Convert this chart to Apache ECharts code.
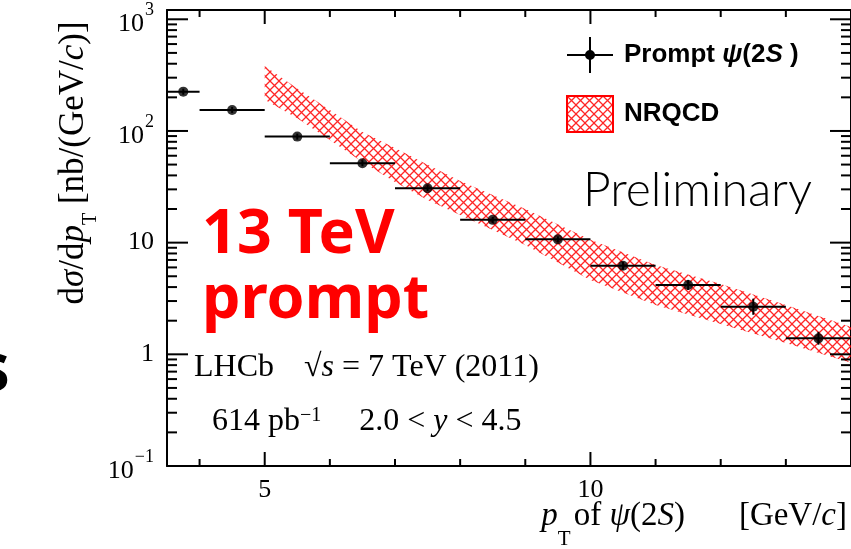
<!DOCTYPE html>
<html><head><meta charset="utf-8">
<script src="https://cdn.jsdelivr.net/npm/echarts@6/dist/echarts.min.js"></script>
<style>html,body{margin:0;padding:0;background:#fff}#c{width:851px;height:549px}</style>
</head><body><div id="c"></div>
<script>
// ---- data ----
const binLow = [3.5, 4, 5, 6, 7, 8, 9, 10, 11, 12, 13];
const binHigh = [4, 5, 6, 7, 8, 9, 10, 11, 12, 13, 14];
const binCenter = [3.75, 4.5, 5.5, 6.5, 7.5, 8.5, 9.5, 10.5, 11.5, 12.5, 13.5];
const xsec = [225, 154, 89, 51.4, 30.7, 16.0, 10.7, 6.22, 4.18, 2.67, 1.39];
const xsecLow = [211, 145, 83.6, 48.3, 28.9, 15.0, 10.1, 5.73, 3.77, 2.26, 1.22];
const xsecHigh = [239, 164, 94.7, 54.7, 32.7, 17.0, 11.4, 6.75, 4.64, 3.15, 1.59];
const bandPt = [5, 5.5, 6, 6.5, 7, 7.5, 8, 9, 10, 11, 12, 13, 14];
const bandUpper = [382, 240, 154, 98, 70.4, 49.7, 35.7, 20.0, 10.6, 6.31, 4.27, 2.77, 1.76];
const bandLower = [190, 130, 83, 52.7, 34.9, 24.1, 17.7, 9.53, 4.63, 2.77, 1.87, 1.26, 0.84];
const xRange = [3.5, 14];
const yRange = [0.1, 1211];
const xMajorTicks = [5, 10];
const xMinorTicks = [4, 6, 7, 8, 9, 11, 12, 13];
const yMajorTicks = [0.1, 1, 10, 100, 1000];
const yTickBase = ['10', '1', '10', '10', '10'];
const yTickExp = ['−1', '', '', '2', '3'];
const yMinorTicks = [0.2, 0.3, 0.4, 0.5, 0.6, 0.7, 0.8, 0.9, 2, 3, 4, 5, 6, 7, 8, 9,
  20, 30, 40, 50, 60, 70, 80, 90, 200, 300, 400, 500, 600, 700, 800, 900];

const serif = '"Liberation Serif", "Times New Roman", serif';
const sans = '"Liberation Sans", Arial, sans-serif';

function hatchCanvas() {
  const c = document.createElement('canvas');
  c.width = 9; c.height = 9;
  const g = c.getContext('2d');
  g.strokeStyle = 'rgba(255,0,0,0.85)';
  g.lineWidth = 1.3;
  g.beginPath();
  g.moveTo(-1, -1); g.lineTo(10, 10);
  g.moveTo(10, -1); g.lineTo(-1, 10);
  g.stroke();
  return c;
}
const hatch = { image: hatchCanvas(), repeat: 'repeat' };

const axLine = () => ({ color: '#000', width: 2 });
function xAx(pos, labels) {
  return {
    type: 'value', position: pos, min: xRange[0], max: xRange[1],
    axisLine: { show: true, onZero: false, lineStyle: axLine() },
    axisTick: { show: false },
    axisLabel: labels ? {
      show: true, customValues: xMajorTicks, margin: 11,
      fontFamily: serif, fontSize: 26, color: '#000',
      formatter: v => (xMajorTicks.indexOf(v) >= 0 ? String(v) : '')
    } : { show: false },
    splitLine: { show: false }
  };
}
function yAx(pos, labels) {
  return {
    type: 'log', logBase: 10, position: pos, min: yRange[0], max: yRange[1],
    axisLine: { show: true, onZero: false, lineStyle: axLine() },
    axisTick: { show: false },
    axisLabel: labels ? {
      show: true, customValues: yMajorTicks, margin: 13, showMaxLabel: true,
      fontFamily: serif, fontSize: 26, color: '#000',
      formatter: v => {
        let k = -1;
        yMajorTicks.forEach((t, i) => { if (Math.abs(Math.log10(t) - Math.log10(v)) < 0.01) k = i; });
        if (k < 0) return '';
        return yTickExp[k] ? '{h|\u200b}{b|' + yTickBase[k] + '}{s|' + yTickExp[k] + '}' : '{p|' + yTickBase[k] + '}';
      },
      rich: {
        p: { fontFamily: serif, fontSize: 26, lineHeight: 26, color: '#000' },
        h: { fontSize: 2, lineHeight: 36, width: 0 },
        b: { fontFamily: serif, fontSize: 26, lineHeight: 26.6, verticalAlign: 'bottom', color: '#000' },
        s: { fontFamily: serif, fontSize: 18, lineHeight: 28.4, verticalAlign: 'top', padding: [0, 0, 0, 1], color: '#000' }
      }
    } : { show: false },
    splitLine: { show: false }
  };
}

// tick marks: [x, y, length, kind(0 = x-axis tick, 1 = y-axis tick)]
const tickData = [].concat(
  xMajorTicks.map(v => [v, 1, 14, 0]),
  xMinorTicks.map(v => [v, 1, 7, 0]),
  yMajorTicks.map(v => [5, v, 21, 1]),
  yMinorTicks.map(v => [5, v, 10, 1])
);

const chart = echarts.init(document.getElementById('c'), null, { renderer: 'canvas', width: 851, height: 549 });

const option = {
  animation: false,
  backgroundColor: '#fff',
  grid: { left: 167, right: 0, top: 10, bottom: 83, containLabel: false, outerBoundsMode: 'none' },
  xAxis: [xAx('bottom', true), xAx('top', false)],
  yAxis: [yAx('left', true), yAx('right', false)],
  legend: {
    orient: 'vertical', left: 561, top: 32, itemWidth: 46, itemHeight: 36, itemGap: 22,
    selectedMode: false,
    data: [
      { name: 'Prompt', icon: 'path://M0,17h46v2h-46z M22,0h2v36h-2z M18,18a5,5 0 1,1 10,0a5,5 0 1,1 -10,0z', itemStyle: { color: '#000', borderWidth: 0 } },
      { name: 'NRQCD', icon: 'rect', itemStyle: { color: hatch, borderColor: '#ff0000', borderWidth: 2 } }
    ],
    formatter: n => n === 'Prompt' ? '{g|}{b|Prompt }{i|ψ}{b|(2}{i|S}{b| )}' : '{g|}{b|NRQCD}',
    textStyle: {
      color: '#000', fontFamily: sans, fontWeight: 'bold', fontSize: 26,
      rich: {
        g: { width: 6 },
        b: { fontFamily: sans, fontWeight: 'bold', fontSize: 26, color: '#000' },
        i: { fontFamily: sans, fontWeight: 'bold', fontStyle: 'italic', fontSize: 26, color: '#000' }
      }
    }
  },
  series: [
    {
      name: 'NRQCD', type: 'custom', xAxisIndex: 0, yAxisIndex: 0, z: 2,
      data: bandPt.map((x, i) => [x, bandLower[i], bandUpper[i]]),
      encode: { x: 0, y: [1, 2] },
      itemStyle: { color: hatch, borderColor: '#ff0000' },
      renderItem: (params, api) => {
        if (params.dataIndex !== 0) return null;
        const pts = [];
        for (let i = 0; i < bandPt.length; i++) pts.push(api.coord([bandPt[i], bandUpper[i]]));
        for (let i = bandPt.length - 1; i >= 0; i--) pts.push(api.coord([bandPt[i], bandLower[i]]));
        return { type: 'polygon', shape: { points: pts }, style: { fill: hatch, stroke: null } };
      }
    },
    {
      name: 'Prompt', type: 'custom', xAxisIndex: 0, yAxisIndex: 0, z: 4,
      data: binCenter.map((x, i) => [x, xsec[i], binLow[i], binHigh[i], xsecLow[i], xsecHigh[i]]),
      encode: { x: 0, y: 1 },
      itemStyle: { color: '#000' },
      renderItem: (params, api) => {
        const l = api.coord([api.value(2), api.value(1)]);
        const r = api.coord([api.value(3), api.value(1)]);
        const lo = api.coord([api.value(0), api.value(4)]);
        const hi = api.coord([api.value(0), api.value(5)]);
        return {
          type: 'group', children: [
            { type: 'line', shape: { x1: l[0], y1: l[1], x2: r[0], y2: r[1] }, style: { stroke: '#000', lineWidth: 2 } },
            { type: 'line', shape: { x1: lo[0], y1: lo[1], x2: hi[0], y2: hi[1] }, style: { stroke: '#000', lineWidth: 2 } }
          ]
        };
      }
    },
    {
      name: 'Prompt', type: 'scatter', xAxisIndex: 0, yAxisIndex: 0, z: 5,
      symbol: 'circle', symbolSize: 10,
      itemStyle: { color: '#000' },
      data: binCenter.map((x, i) => [x, xsec[i]])
    }
  ],
  graphic: [
    { type: 'text', x: -24, y: 372, style: { text: 's', fontFamily: '"Noto Sans", sans-serif', fontWeight: 'bold', fontSize: 68, fill: '#000', verticalAlign: 'middle' } },
    { type: 'text', x: 202, y: 236, style: { text: '13 TeV', fontFamily: '"Noto Sans", sans-serif', fontWeight: 'bold', fontSize: 61, fill: '#ff0000', verticalAlign: 'middle' } },
    { type: 'text', x: 202, y: 301, style: { text: 'prompt', fontFamily: '"Noto Sans", sans-serif', fontWeight: 'bold', fontSize: 61, fill: '#ff0000', verticalAlign: 'middle' } },
    { type: 'text', x: 583, y: 191, style: { text: 'Preliminary', fontFamily: 'Lato, "Noto Sans", sans-serif', fontWeight: 300, fontSize: 48, fill: '#000', verticalAlign: 'middle' } },
    { type: 'text', x: 194, y: 368, style: {
        text: '{n|LHCb}{g|}{n|√}{i|s}{n| = 7 TeV (2011)}', verticalAlign: 'middle',
        rich: {
          n: { fontFamily: serif, fontSize: 32, lineHeight: 32, color: '#000' },
          i: { fontFamily: serif, fontSize: 32, lineHeight: 32, fontStyle: 'italic', color: '#000' },
          g: { width: 30 }
        } } },
    { type: 'text', x: 212, y: 422, style: {
        text: '{n|614 pb}{s|−1}{g|}{n|2.0 < }{i|y}{n| < 4.5}', verticalAlign: 'middle',
        rich: {
          n: { fontFamily: serif, fontSize: 32, lineHeight: 32, verticalAlign: 'bottom', color: '#000' },
          i: { fontFamily: serif, fontSize: 32, lineHeight: 32, fontStyle: 'italic', verticalAlign: 'bottom', color: '#000' },
          s: { fontFamily: serif, fontSize: 20, lineHeight: 20, verticalAlign: 'top', color: '#000' },
          g: { width: 38 }
        } } },
    { type: 'text', x: 56, y: 163, rotation: Math.PI / 2, style: {
        text: '{n|d}{i|σ}{n|/d}{i|p}{t|T}{n| [nb/(GeV/}{i|c}{n|)]}', align: 'center', verticalAlign: 'top',
        rich: {
          n: { fontFamily: serif, fontSize: 35, lineHeight: 35, verticalAlign: 'top', color: '#000' },
          i: { fontFamily: serif, fontSize: 35, lineHeight: 35, fontStyle: 'italic', verticalAlign: 'top', color: '#000' },
          t: { fontFamily: serif, fontSize: 20, lineHeight: 20, padding: [25, 0, 0, 0], verticalAlign: 'top', color: '#000' }
        } } },
    { type: 'text', x: 847, y: 500, style: {
        text: '{i|p}{t|T}{k|}{n|of }{i|ψ}{n|(2}{i|S}{n|)}{g|}{n|[GeV/}{i|c}{n|]}', align: 'right', verticalAlign: 'top',
        rich: {
          n: { fontFamily: serif, fontSize: 33, lineHeight: 33, verticalAlign: 'top', color: '#000' },
          i: { fontFamily: serif, fontSize: 33, lineHeight: 33, fontStyle: 'italic', verticalAlign: 'top', color: '#000' },
          t: { fontFamily: serif, fontSize: 21, lineHeight: 21, padding: [29, 0, 0, 0], verticalAlign: 'top', color: '#000' },
          k: { width: 3 },
          g: { width: 54 }
        } } }
  ]
};
chart.setOption(option);

// tick marks placed through the chart's own axis scales
const tickGraphics = [];
function tk(x1, y1, x2, y2) {
  tickGraphics.push({ type: 'line', z: 100, silent: true, shape: { x1: x1, y1: y1, x2: x2, y2: y2 }, style: { stroke: '#000', lineWidth: 2 } });
}
const px = v => chart.convertToPixel({ xAxisIndex: 0 }, v);
const py = v => chart.convertToPixel({ yAxisIndex: 0 }, v);
tickData.forEach(d => {
  const len = d[2];
  if (d[3] === 0) {
    const x = px(d[0]), yb = py(yRange[0]), yt = py(yRange[1]);
    tk(x, yb, x, yb - len); tk(x, yt, x, yt + len);
  } else {
    const y = py(d[1]), xl = px(xRange[0]), xr = px(xRange[1]);
    tk(xl, y, xl + len, y); tk(xr, y, xr - len, y);
  }
});
chart.setOption({ graphic: option.graphic.concat(tickGraphics) });
</script>
</body></html>
